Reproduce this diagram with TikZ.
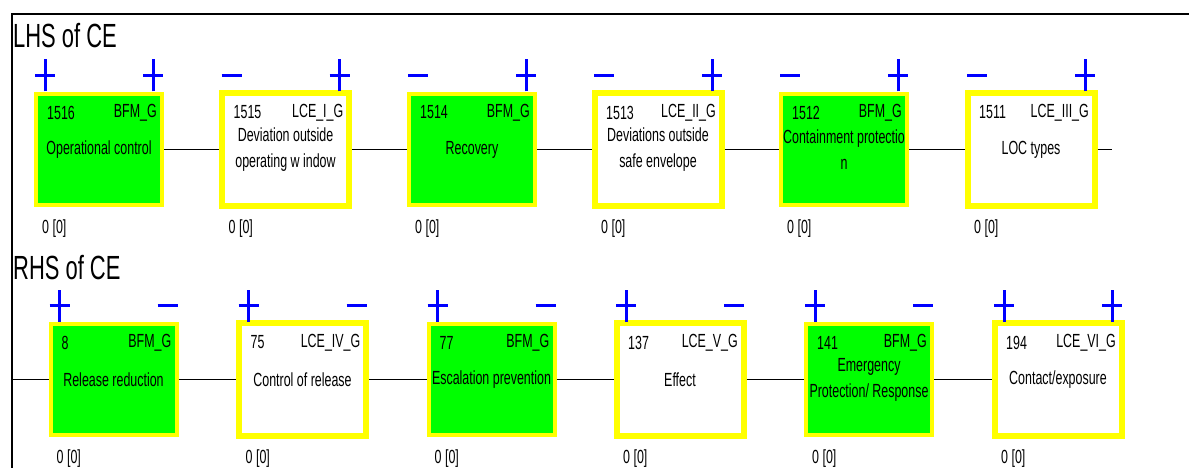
\documentclass[tikz,border=0pt]{standalone}
\usepackage{fontspec}
\setmainfont{Liberation Sans}[FakeStretch=0.655]
\definecolor{bgreen}{HTML}{00FF00}
\definecolor{byellow}{HTML}{FFFF00}
\definecolor{bblue}{HTML}{0000FF}
\tikzset{
  gbox/.style={draw=byellow, fill=bgreen, line width=4pt, minimum width=126pt, minimum height=111pt, inner sep=0pt, align=center, font=\fontsize{19}{26}\selectfont},
  wbox/.style={draw=byellow, fill=white, line width=6pt, minimum width=127pt, minimum height=113pt, inner sep=0pt, align=center, font=\fontsize{19}{26}\selectfont},
  lbl/.style={font=\fontsize{19}{26}\selectfont, inner sep=0pt},
  conn/.style={line width=1.5pt},
  sgn/.style={draw=bblue, line width=3pt},
  head/.style={font=\fontsize{33.5}{36}\selectfont, inner sep=0pt, anchor=base west},
  plussign/.pic={\draw[sgn] (-10pt,0pt) -- (10pt,0pt) (0pt,-16pt) -- (0pt,16pt);},
  minussign/.pic={\draw[sgn] (-10pt,0pt) -- (10pt,0pt);},
}
\newcommand\cebox[9]{%
  \node[#4] (#1) at (#2,#3) {#7};
  \node[lbl, anchor=west] (#1id) at ([xshift=-52pt,yshift=37pt]#1.center) {#5};
  \node[lbl, anchor=east] (#1ty) at ([xshift=58pt,yshift=37pt]#1.center) {#6};
  \node[lbl, anchor=west] (#1ct) at ([xshift=-57pt,yshift=-79.5pt]#1.center) {0 [0]};
  \pic at ([xshift=-54pt,yshift=74pt]#1.center) {#8};
  \pic at ([xshift=54pt,yshift=74pt]#1.center) {#9};
}
\begin{document}
\begin{tikzpicture}[x=1pt,y=-1pt]
\useasboundingbox (0,0) rectangle (1189,468);
% frame
\coordinate (fbl) at (12,468);
\coordinate (ftl) at (12,14);
\coordinate (ftr) at (1189,14);
\draw[line width=2pt] (fbl) -- (ftl) -- (ftr);
% headings
\node[head] (lhs) at (13,48) {LHS of CE};
\node[head] (rhs) at (13,279) {RHS of CE};
% LHS row
\cebox{l1}{99}{149.5}{gbox}{1516}{BFM\_G}{Operational control}{plussign}{plussign}
\cebox{l2}{285.5}{149.5}{wbox}{1515}{LCE\_I\_G}{Deviation outside\\operating w indow}{minussign}{plussign}
\cebox{l3}{472}{149.5}{gbox}{1514}{BFM\_G}{Recovery}{minussign}{plussign}
\cebox{l4}{658}{149.5}{wbox}{1513}{LCE\_II\_G}{Deviations outside\\safe envelope}{minussign}{plussign}
\cebox{l5}{844}{149.5}{gbox}{1512}{BFM\_G}{Containment protectio\\n}{minussign}{plussign}
\cebox{l6}{1031}{149.5}{wbox}{1511}{LCE\_III\_G}{LOC types}{minussign}{plussign}
\coordinate (lend) at (1112,149.5);
\draw[conn] (l1) -- (l2);
\draw[conn] (l2) -- (l3);
\draw[conn] (l3) -- (l4);
\draw[conn] (l4) -- (l5);
\draw[conn] (l5) -- (l6);
\draw[conn] (l6) -- (lend);
% RHS row
\coordinate (rstart) at (12,379.5);
\cebox{r1}{113.5}{379.5}{gbox}{8}{BFM\_G}{Release reduction}{plussign}{minussign}
\cebox{r2}{302.5}{379.5}{wbox}{75}{LCE\_IV\_G}{Control of release}{plussign}{minussign}
\cebox{r3}{491.5}{379.5}{gbox}{77}{BFM\_G}{Escalation prevention}{plussign}{minussign}
\cebox{r4}{680}{379.5}{wbox}{137}{LCE\_V\_G}{Effect}{plussign}{minussign}
\cebox{r5}{869}{379.5}{gbox}{141}{BFM\_G}{Emergency\\Protection/ Response}{plussign}{minussign}
\cebox{r6}{1058}{379.5}{wbox}{194}{LCE\_VI\_G}{Contact/exposure}{plussign}{plussign}
\draw[conn] (rstart) -- (r1);
\draw[conn] (r1) -- (r2);
\draw[conn] (r2) -- (r3);
\draw[conn] (r3) -- (r4);
\draw[conn] (r4) -- (r5);
\draw[conn] (r5) -- (r6);
\end{tikzpicture}
\end{document}
